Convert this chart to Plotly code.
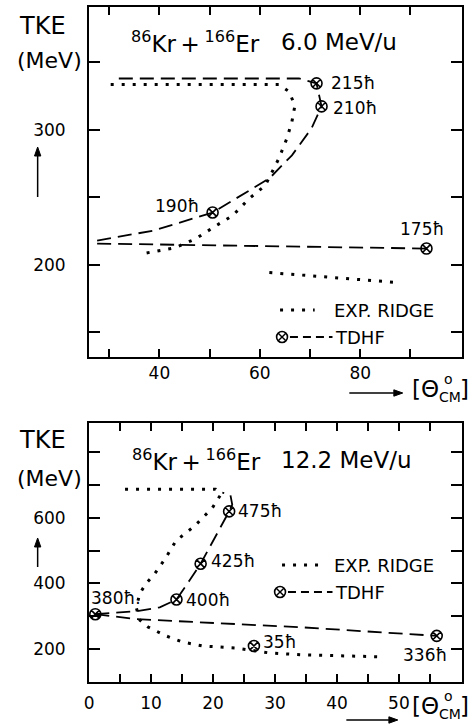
import plotly.graph_objects as go

W, H = 472, 728
FONT = "DejaVu Sans"

# ---------------- 86Kr + 166Er, 6.0 MeV/u ----------------
# TDHF trajectory: lower branch
tdhf6_low_theta = [27.6, 60.0, 93.2]
tdhf6_low_tke = [215.6, 213.5, 211.9]
# TDHF trajectory: upper branch (rising then folding back at high TKE)
tdhf6_up_theta = [27.6, 38.8, 50.6, 61.9, 66.4, 70.3, 72.3, 71.3, 67.8, 30.9]
tdhf6_up_tke = [217.8, 225.2, 238.6, 263.9, 281.0, 301.0, 317.3, 334.4, 338.0, 338.0]
# TDHF points with angular momenta
tdhf6_pt_theta = [71.3, 72.3, 50.6, 93.2]
tdhf6_pt_tke = [334.4, 317.3, 238.6, 211.9]
tdhf6_pt_label = ["215ħ", "210ħ", "190ħ", "175ħ"]
# experimental ridge
exp6_theta = [30.3, 63.8, 65.8, 67.0, 66.4, 65.4, 63.8, 61.1, 57.9, 54.6, 51.0, 47.3, 43.2, 39.4, 36.8]
exp6_tke = [333.6, 333.6, 328.4, 318.0, 306.0, 293.6, 278.7, 258.7, 249.0, 236.4, 228.2, 219.3, 212.6, 209.7, 208.2]
exp6b_theta = [61.9, 87.5]
exp6b_tke = [194.1, 186.7]

# ---------------- 86Kr + 166Er, 12.2 MeV/u ----------------
tdhf12_low_theta = [1.0, 7.6, 34.3, 56.1]
tdhf12_low_tke = [306.0, 291.0, 266.0, 240.0]
tdhf12_up_theta = [1.0, 7.6, 11.4, 14.1, 16.2, 18.0, 22.6, 23.1, 22.8, 21.5]
tdhf12_up_tke = [306.0, 315.0, 327.0, 351.0, 409.0, 460.0, 620.0, 641.0, 671.0, 677.0]
tdhf12_pt_theta = [22.6, 18.0, 14.1, 1.0, 26.6, 56.1]
tdhf12_pt_tke = [620.0, 460.0, 351.0, 306.0, 209.0, 240.0]
tdhf12_pt_label = ["475ħ", "425ħ", "400ħ", "380ħ.", "35ħ", "336ħ"]
exp12_theta = [5.8, 20.4, 21.2, 19.9, 18.3, 17.0, 15.6, 14.0, 12.4, 10.6, 9.2, 8.2, 7.6,
               8.2, 9.5, 12.4, 15.1, 18.3, 23.6, 29.0, 34.3, 47.0]
exp12_tke = [688, 688, 670, 631, 600, 575, 554, 530, 479, 430, 400, 370, 327,
             288, 267, 240, 221, 209, 203, 188, 182, 176]

# axis ticks
x6_ticks = [30, 40, 50, 60, 70, 80, 90]
x6_labels = ["", "40", "", "60", "", "80", ""]
y6_ticks = [150, 200, 250, 300, 350]
y6_labels = ["", "200", "", "300", ""]
x12_ticks = [0, 5, 10, 15, 20, 25, 30, 35, 40, 45, 50, 55]
x12_labels = ["0", "", "10", "", "20", "", "30", "", "40", "", "50", ""]
y12_ticks = [200, 300, 400, 500, 600, 700, 800]
y12_labels = ["200", "", "400", "", "600", "", ""]


def fx(p):
    return p / W


def fy(p):
    return 1 - p / H


DASH = "14px,7px"
DOT = "3px,8px"

fig = go.Figure()


def line(xs, ys, dash, width, ax):
    fig.add_trace(go.Scatter(x=xs, y=ys, mode="lines", xaxis=ax[0], yaxis=ax[1],
                             line=dict(color="black", width=width, dash=dash),
                             showlegend=False, hoverinfo="skip"))


def pts(xs, ys, ax):
    fig.add_trace(go.Scatter(x=xs, y=ys, mode="markers", xaxis=ax[0], yaxis=ax[1],
                             marker=dict(symbol="circle-x-open", size=11, color="black",
                                         line=dict(width=1.6, color="black")),
                             showlegend=False, hoverinfo="skip"))


top = ("x", "y")
bot = ("x2", "y2")
line(exp6_theta, exp6_tke, DOT, 3, top)
line(exp6b_theta, exp6b_tke, DOT, 3, top)
line(tdhf6_low_theta, tdhf6_low_tke, DASH, 1.8, top)
line(tdhf6_up_theta, tdhf6_up_tke, DASH, 1.8, top)
pts(tdhf6_pt_theta, tdhf6_pt_tke, top)

line(exp12_theta, exp12_tke, DOT, 3, bot)
line(tdhf12_low_theta, tdhf12_low_tke, DASH, 1.8, bot)
line(tdhf12_up_theta, tdhf12_up_tke, DASH, 1.8, bot)
pts(tdhf12_pt_theta, tdhf12_pt_tke, bot)

axis_common = dict(showline=True, linewidth=2, linecolor="black", mirror="ticks",
                   ticks="inside", tickwidth=1.5, tickcolor="black", showgrid=False,
                   zeroline=False, tickmode="array",
                   tickfont=dict(family=FONT, size=17, color="black"))

xdom = [fx(85), fx(462)]
fig.update_layout(
    width=W, height=H, margin=dict(l=0, r=0, t=0, b=0),
    paper_bgcolor="white", plot_bgcolor="white",
    xaxis=dict(domain=xdom, range=[26, 100.3], tickvals=x6_ticks, ticktext=x6_labels,
               ticklen=8, anchor="y", ticklabelstandoff=0, **axis_common),
    yaxis=dict(domain=[fy(357), fy(7)], range=[131.5, 391], tickvals=y6_ticks,
               ticktext=y6_labels, ticklen=11, anchor="x", ticklabelstandoff=18, **axis_common),
    xaxis2=dict(domain=xdom, range=[0, 60.2], tickvals=x12_ticks, ticktext=x12_labels,
                ticklen=8, anchor="y2", ticklabelstandoff=5, **axis_common),
    yaxis2=dict(domain=[fy(682), fy(423)], range=[99, 890], tickvals=y12_ticks,
                ticktext=y12_labels, ticklen=11, anchor="x2", ticklabelstandoff=18, **axis_common),
)

ann = []
shapes = []


def text(x, y, s, size, xanchor="left", yanchor="middle"):
    ann.append(dict(x=fx(x), y=fy(y), xref="paper", yref="paper", text=s, showarrow=False,
                    xanchor=xanchor, yanchor=yanchor,
                    font=dict(family=FONT, size=size, color="black")))


def arrow(hx, hy, tx, ty):
    # shaft plus a filled triangular head, in paper coordinates
    L, hw = 9, 3.2
    if hx == tx:  # vertical, pointing up
        sx, sy = hx, hy + L
        tri = [(hx, hy), (hx - hw, hy + L), (hx + hw, hy + L)]
    else:  # horizontal, pointing right
        sx, sy = hx - L, hy
        tri = [(hx, hy), (hx - L, hy - hw), (hx - L, hy + hw)]
    shapes.append(dict(type="line", xref="paper", yref="paper", x0=fx(tx), y0=fy(ty),
                       x1=fx(sx), y1=fy(sy), line=dict(color="black", width=1.5)))
    path = "M " + " L ".join(f"{fx(a):.5f},{fy(b):.5f}" for a, b in tri) + " Z"
    shapes.append(dict(type="path", xref="paper", yref="paper", path=path,
                       fillcolor="black", line=dict(color="black", width=1)))


# axis titles and arrows
for (tke_y, mev_y, ah, at) in [(26, 60, 147, 197), (440, 478, 538, 567)]:
    text(38, tke_y, "TKE", 24, xanchor="center")
    text(45, mev_y, "(MeV)", 22, xanchor="center")
    arrow(33, ah, 33, at)

for (ybase, hx, tx, yarr) in [(389, 402, 348, 393), (706, 397, 345, 720)]:
    arrow(hx, yarr, tx, yarr)
    text(409, ybase, "[Θ", 23)
    text(448, ybase - 10, "o", 14, xanchor="center")
    text(437, ybase + 8, "CM", 14)
    text(471, ybase, "]", 23, xanchor="right")

# titles
THIN = "\u2009"
reaction = "<sup>86</sup>Kr" + THIN + "+" + THIN + "<sup>166</sup>Er"
text(125, 42, reaction, 23)
text(277, 42, "6.0 MeV/u", 23)
text(126, 460, reaction, 23)
text(277, 460, "12.2 MeV/u", 23)

# legends
leg = [(310, 337, 278, 313, 280), (565, 592, 280, 317, 278)]
for (ye, yt, d0, d1, mx) in leg:
    shapes.append(dict(type="line", xref="paper", yref="paper", x0=fx(d0), x1=fx(d1),
                       y0=fy(ye), y1=fy(ye), line=dict(color="black", width=3, dash=DOT)))
    text(330, ye, "EXP. RIDGE", 18)
    r = 5.5
    shapes.append(dict(type="circle", xref="paper", yref="paper", x0=fx(mx - r), x1=fx(mx + r),
                       y0=fy(yt + r), y1=fy(yt - r), line=dict(color="black", width=1.6)))
    k = r * 0.7
    shapes.append(dict(type="line", xref="paper", yref="paper", x0=fx(mx - k), x1=fx(mx + k),
                       y0=fy(yt - k), y1=fy(yt + k), line=dict(color="black", width=1.4)))
    shapes.append(dict(type="line", xref="paper", yref="paper", x0=fx(mx - k), x1=fx(mx + k),
                       y0=fy(yt + k), y1=fy(yt - k), line=dict(color="black", width=1.4)))
    shapes.append(dict(type="line", xref="paper", yref="paper", x0=fx(mx + 8), x1=fx(331),
                       y0=fy(yt), y1=fy(yt), line=dict(color="black", width=1.8, dash="8px,5px")))
    text(332, yt, "TDHF", 18)

# angular momentum labels next to the TDHF points
off6 = [(12, 0, "left"), (9, -2, "left"), (-12, 7, "right"), (-4, 20, "center")]
for t, e, s, (dx, dy, xa) in zip(tdhf6_pt_theta, tdhf6_pt_tke, tdhf6_pt_label, off6):
    ann.append(dict(x=t, y=e, xref="x", yref="y", text=s, showarrow=False, xanchor=xa,
                    xshift=dx, yshift=dy, font=dict(family=FONT, size=17, color="black")))
off12 = [(7, 0, "left"), (8, 3, "left"), (8, -1, "left"), (-6, 16, "left"), (7, 4, "left"),
         (12, -19, "right")]
for t, e, s, (dx, dy, xa) in zip(tdhf12_pt_theta, tdhf12_pt_tke, tdhf12_pt_label, off12):
    ann.append(dict(x=t, y=e, xref="x2", yref="y2", text=s, showarrow=False, xanchor=xa,
                    xshift=dx, yshift=dy, font=dict(family=FONT, size=17, color="black")))

fig.update_layout(annotations=ann, shapes=shapes)
fig.write_html("out.html")
